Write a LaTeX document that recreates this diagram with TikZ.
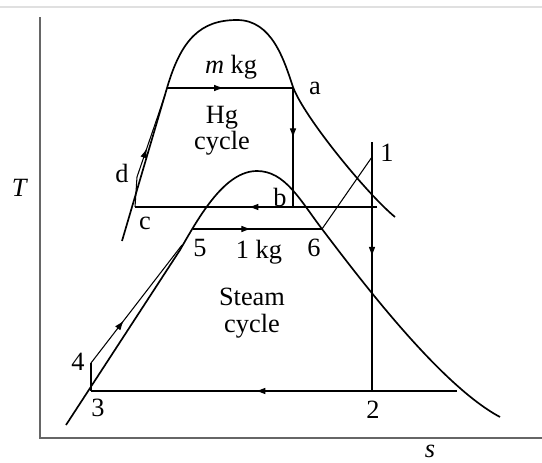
\documentclass[tikz,border=0pt]{standalone}
\usepackage{fontspec}
\setmainfont{Liberation Serif}
\usetikzlibrary{arrows.meta,decorations.markings}

\begin{document}
\begin{tikzpicture}[
        x=0.02cm, y=-0.02cm,
        font=\fontsize{15}{15}\selectfont,
        axis/.style={draw=black!60, line width=0.9pt},
        dome/.style={line width=0.95pt},
        proc/.style={line width=0.6pt},
        flow/.style={proc, postaction={decorate}, decoration={markings,
            mark=at position #1 with {\arrow{Latex[length=5.5pt,width=3.8pt]}}}},
        lbl/.style={inner sep=0pt}
    ]
    \useasboundingbox (0,0) rectangle (542,463);

    % Axes
    \draw[black!12, line width=0.6pt] (0,7) -- (542,7);
    \coordinate (ytop) at (40,17);
    \coordinate (origin) at (40,438);
    \coordinate (xend) at (542,438);
    \draw[axis] (ytop) -- (origin) -- (xend);
    \node[lbl] (Tlabel) at (20,188) {\textit{T}};
    \node[lbl] (slabel) at (430,451) {\textit{s}};

    % Hg dome
    \draw[dome] (122,241) -- (167,88)
        .. controls (181,40) and (200,20) .. (237,20)
        .. controls (272,20) and (284,60) .. (293,87)
        .. controls (304,117) and (367,194) .. (395,217);

    % Steam dome
    \draw[dome] (66,425) -- (180,250)
        .. controls (200,215) and (225,171) .. (257,171)
        .. controls (285,171) and (300,200) .. (322,229)
        .. controls (360,279) and (440,385) .. (500,417);

    % State points
    \coordinate (hgl) at (167,88);
    \coordinate (a) at (293,88);
    \coordinate (b) at (293,207);
    \coordinate (bext) at (377,207);
    \coordinate (c) at (135,207);
    \coordinate (d) at (137,177);
    \coordinate (hgd) at (165,95);
    \coordinate (top1) at (372,142);
    \coordinate (p1) at (372,157);
    \coordinate (p2) at (372,391);
    \coordinate (wet2) at (457,391);
    \coordinate (p3) at (91,391);
    \coordinate (p4) at (91,363);
    \coordinate (sat4) at (182,245);
    \coordinate (p5) at (193,229);
    \coordinate (p6) at (322,229);

    % Hg cycle
    \draw[flow=0.45] (hgl) -- (a);
    \draw[flow=0.42] (a) -- (b);
    \draw[flow=0.53] (bext) -- (c);
    \draw[proc] (c) -- (d);
    \draw[flow=0.35] (d) -- (hgd);

    % Steam cycle
    \draw[flow=0.46] (top1) -- (p2);
    \draw[flow=0.55] (wet2) -- (p3);
    \draw[proc] (p3) -- (p4);
    \draw[flow=0.36] (p4) -- (sat4);
    \draw[flow=0.45] (p5) -- (p6);
    \draw[proc] (p6) -- (p1);

    % Labels
    \node[lbl] (mkg) at (231,67) {\textit{m} kg};
    \node[lbl, align=center] (hgcyc) at (222,131) {Hg\\cycle};
    \node[lbl] (la) at (315,88) {a};
    \node[lbl] (lb) at (280,197) {b};
    \node[lbl] (lc) at (145,223) {c};
    \node[lbl] (ld) at (122,173) {d};
    \node[lbl] (l1) at (387,153) {1};
    \node[lbl] (l2) at (373,410) {2};
    \node[lbl] (l3) at (98,408) {3};
    \node[lbl] (l4) at (78,362) {4};
    \node[lbl] (l5) at (200,248) {5};
    \node[lbl] (l6) at (314,248) {6};
    \node[lbl] (onekg) at (259,252) {1 kg};
    \node[lbl, align=center] (stcyc) at (252,313) {Steam\\cycle};
\end{tikzpicture}
\end{document}
